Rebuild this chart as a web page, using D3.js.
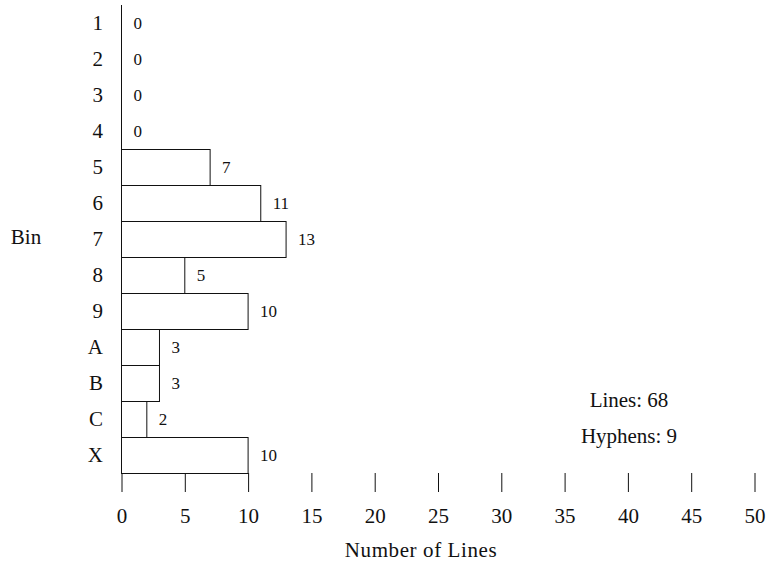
<!DOCTYPE html>
<html><head><meta charset="utf-8">
<script src="https://cdn.jsdelivr.net/npm/d3@7"></script>
<style>body{margin:0;background:#fff}svg{display:block}text{font-family:"Liberation Serif","Times New Roman",serif;fill:#111}</style>
</head><body>
<svg id="c" width="770" height="564"></svg>
<script>
const bins = ["1","2","3","4","5","6","7","8","9","A","B","C","X"];
const counts = [0,0,0,0,7,11,13,5,10,3,3,2,10];
const xTicks = [0,5,10,15,20,25,30,35,40,45,50];
const statLines = ["Lines: 68","Hyphens: 9"];

const svg = d3.select("#c");
const x = d3.scaleLinear().domain([0,50]).range([121.5,754.5]);
const y = d3.scaleBand().domain(bins).range([5,473]).padding(0);

// bars
svg.append("g").selectAll("rect").data(bins).join("rect")
  .attr("x", x(0))
  .attr("y", d=>y(d)+0.5)
  .attr("width", (d,i)=>x(counts[i])-x(0))
  .attr("height", y.bandwidth())
  .attr("fill","#fff").attr("stroke","#111").attr("stroke-width",1);

// value labels
svg.append("g").selectAll("text").data(bins).join("text")
  .attr("x",(d,i)=>x(counts[i])+12)
  .attr("y",d=>y(d)+y.bandwidth()/2)
  .attr("dy","0.35em")
  .style("font-size","17px")
  .text((d,i)=>counts[i]);

// y axis line
svg.append("line").attr("x1",x(0)).attr("x2",x(0)).attr("y1",5).attr("y2",473)
  .attr("stroke","#111").attr("stroke-width",1);

// category labels
svg.append("g").selectAll("text").data(bins).join("text")
  .attr("x",103).attr("y",d=>y(d)+y.bandwidth()/2)
  .attr("dy","0.35em").attr("text-anchor","end")
  .style("font-size","21px").text(d=>d);

// x axis
const xa = d3.axisBottom(x).tickValues(xTicks).tickSize(19).tickPadding(16);
const gx = svg.append("g").attr("transform","translate(0,473)").call(xa);
gx.select(".domain").remove();
gx.selectAll(".tick line").attr("stroke","#111");
gx.selectAll(".tick text").style("font-size","21px").style("font-family","'Liberation Serif',serif").attr("fill","#111");

// axis titles
svg.append("text").attr("x",421).attr("y",557).attr("text-anchor","middle")
  .style("font-size","21px").style("letter-spacing","0.6px").text("Number of Lines");
svg.append("text").attr("x",26).attr("y",244).attr("text-anchor","middle")
  .style("font-size","21px").text("Bin");

// stats
svg.append("g").selectAll("text").data(statLines).join("text")
  .attr("x",629).attr("y",(d,i)=>407+i*36).attr("text-anchor","middle")
  .style("font-size","21px").text(d=>d);
</script>
</body></html>
